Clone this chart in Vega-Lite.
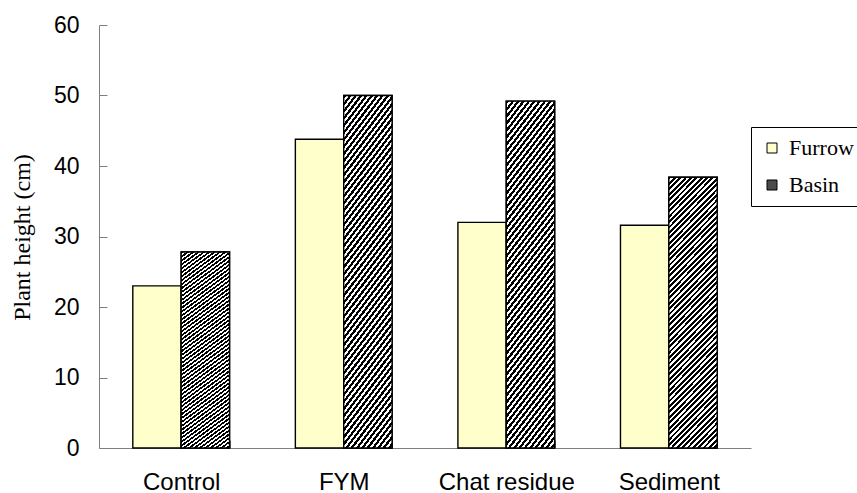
{
  "$schema": "https://vega.github.io/schema/vega-lite/v6.json",
  "width": 652,
  "height": 423,
  "autosize": {"type": "none"},
  "padding": {"left": 99, "top": 25, "right": 106, "bottom": 45},
  "background": "white",
  "config": {"view": {"stroke": null}},
  "data": {
    "values": [
      {"treatment": "Control", "irrigation": "Furrow", "height": 23.0},
      {"treatment": "Control", "irrigation": "Basin", "height": 27.8},
      {"treatment": "FYM", "irrigation": "Furrow", "height": 43.8},
      {"treatment": "FYM", "irrigation": "Basin", "height": 50.0},
      {"treatment": "Chat residue", "irrigation": "Furrow", "height": 32.0},
      {"treatment": "Chat residue", "irrigation": "Basin", "height": 49.2},
      {"treatment": "Sediment", "irrigation": "Furrow", "height": 31.6},
      {"treatment": "Sediment", "irrigation": "Basin", "height": 38.4}
    ]
  },
  "encoding": {
    "x": {
      "field": "treatment",
      "type": "nominal",
      "sort": ["Control", "FYM", "Chat residue", "Sediment"],
      "scale": {"paddingInner": 0.405, "paddingOuter": 0.208},
      "axis": {
        "title": null,
        "labelAngle": 0,
        "labelFont": "Liberation Sans",
        "labelFontSize": 24,
        "labelColor": "#000",
        "labelBaseline": "alphabetic",
        "labelPadding": 49,
        "tickBand": "extent",
        "tickSize": -8,
        "tickColor": "#7f7f7f",
        "domainColor": "#7f7f7f"
      }
    },
    "xOffset": {"field": "irrigation", "type": "nominal", "sort": ["Furrow", "Basin"], "scale": {"domain": ["Furrow", "Basin"]}},
    "y": {
      "field": "height",
      "type": "quantitative",
      "scale": {"domain": [0, 60]},
      "axis": {
        "values": [0, 10, 20, 30, 40, 50, 60],
        "grid": false,
        "title": "Plant height (cm)",
        "titleFont": "Liberation Serif",
        "titleFontSize": 24,
        "titleFontWeight": "normal",
        "titleColor": "#000",
        "titleAngle": -90,
        "titleAlign": "center",
        "titleBaseline": "middle",
        "titleX": -77,
        "titleY": 212,
        "labelFont": "Liberation Sans",
        "labelFontSize": 23,
        "labelColor": "#000",
        "labelPadding": 28,
        "tickSize": -8,
        "tickColor": "#7f7f7f",
        "domainColor": "#7f7f7f"
      }
    }
  },
  "layer": [
    {
      "mark": {"type": "bar", "stroke": "#000", "strokeWidth": 1.4},
      "encoding": {
        "fill": {
          "field": "irrigation",
          "type": "nominal",
          "sort": ["Furrow", "Basin"],
          "scale": {"domain": ["Furrow", "Basin"], "range": ["#FFFFCC", "#4a4a4a"]},
          "legend": {
            "title": null,
            "orient": "none",
            "legendX": 652,
            "legendY": 102,
            "padding": 10,
            "strokeColor": "#000",
            "fillColor": "#fff",
            "symbolType": "square",
            "symbolSize": 100,
            "symbolStrokeColor": "#000",
            "symbolStrokeWidth": 1,
            "symbolOpacity": 1,
            "labelFont": "Liberation Serif",
            "labelFontSize": 22,
            "labelColor": "#000",
            "labelOffset": 6,
            "rowPadding": 15
          }
        }
      }
    },
    {
      "transform": [{"filter": "datum.irrigation === 'Basin'"}],
      "mark": {
        "type": "bar",
        "stroke": "#000",
        "strokeWidth": 1.4,
        "fill": {
          "gradient": "linear",
          "x1": 0, "y1": 0, "x2": 0.208, "y2": 1.144,
          "stops": [
            {"offset":0,"color":"#000"},{"offset":0.009,"color":"#000"},{"offset":0.009,"color":"#fff"},{"offset":0.017,"color":"#fff"},
            {"offset":0.017,"color":"#000"},{"offset":0.026,"color":"#000"},{"offset":0.026,"color":"#fff"},{"offset":0.034,"color":"#fff"},
            {"offset":0.034,"color":"#000"},{"offset":0.043,"color":"#000"},{"offset":0.043,"color":"#fff"},{"offset":0.051,"color":"#fff"},
            {"offset":0.051,"color":"#000"},{"offset":0.06,"color":"#000"},{"offset":0.06,"color":"#fff"},{"offset":0.068,"color":"#fff"},
            {"offset":0.068,"color":"#000"},{"offset":0.077,"color":"#000"},{"offset":0.077,"color":"#fff"},{"offset":0.085,"color":"#fff"},
            {"offset":0.085,"color":"#000"},{"offset":0.094,"color":"#000"},{"offset":0.094,"color":"#fff"},{"offset":0.102,"color":"#fff"},
            {"offset":0.102,"color":"#000"},{"offset":0.111,"color":"#000"},{"offset":0.111,"color":"#fff"},{"offset":0.119,"color":"#fff"},
            {"offset":0.119,"color":"#000"},{"offset":0.128,"color":"#000"},{"offset":0.128,"color":"#fff"},{"offset":0.136,"color":"#fff"},
            {"offset":0.136,"color":"#000"},{"offset":0.145,"color":"#000"},{"offset":0.145,"color":"#fff"},{"offset":0.153,"color":"#fff"},
            {"offset":0.153,"color":"#000"},{"offset":0.162,"color":"#000"},{"offset":0.162,"color":"#fff"},{"offset":0.17,"color":"#fff"},
            {"offset":0.17,"color":"#000"},{"offset":0.179,"color":"#000"},{"offset":0.179,"color":"#fff"},{"offset":0.187,"color":"#fff"},
            {"offset":0.187,"color":"#000"},{"offset":0.196,"color":"#000"},{"offset":0.196,"color":"#fff"},{"offset":0.204,"color":"#fff"},
            {"offset":0.204,"color":"#000"},{"offset":0.213,"color":"#000"},{"offset":0.213,"color":"#fff"},{"offset":0.221,"color":"#fff"},
            {"offset":0.221,"color":"#000"},{"offset":0.23,"color":"#000"},{"offset":0.23,"color":"#fff"},{"offset":0.238,"color":"#fff"},
            {"offset":0.238,"color":"#000"},{"offset":0.247,"color":"#000"},{"offset":0.247,"color":"#fff"},{"offset":0.255,"color":"#fff"},
            {"offset":0.255,"color":"#000"},{"offset":0.264,"color":"#000"},{"offset":0.264,"color":"#fff"},{"offset":0.272,"color":"#fff"},
            {"offset":0.272,"color":"#000"},{"offset":0.281,"color":"#000"},{"offset":0.281,"color":"#fff"},{"offset":0.289,"color":"#fff"},
            {"offset":0.289,"color":"#000"},{"offset":0.298,"color":"#000"},{"offset":0.298,"color":"#fff"},{"offset":0.306,"color":"#fff"},
            {"offset":0.306,"color":"#000"},{"offset":0.315,"color":"#000"},{"offset":0.315,"color":"#fff"},{"offset":0.323,"color":"#fff"},
            {"offset":0.323,"color":"#000"},{"offset":0.332,"color":"#000"},{"offset":0.332,"color":"#fff"},{"offset":0.34,"color":"#fff"},
            {"offset":0.34,"color":"#000"},{"offset":0.349,"color":"#000"},{"offset":0.349,"color":"#fff"},{"offset":0.357,"color":"#fff"},
            {"offset":0.357,"color":"#000"},{"offset":0.366,"color":"#000"},{"offset":0.366,"color":"#fff"},{"offset":0.374,"color":"#fff"},
            {"offset":0.374,"color":"#000"},{"offset":0.383,"color":"#000"},{"offset":0.383,"color":"#fff"},{"offset":0.391,"color":"#fff"},
            {"offset":0.391,"color":"#000"},{"offset":0.4,"color":"#000"},{"offset":0.4,"color":"#fff"},{"offset":0.408,"color":"#fff"},
            {"offset":0.408,"color":"#000"},{"offset":0.417,"color":"#000"},{"offset":0.417,"color":"#fff"},{"offset":0.425,"color":"#fff"},
            {"offset":0.425,"color":"#000"},{"offset":0.434,"color":"#000"},{"offset":0.434,"color":"#fff"},{"offset":0.442,"color":"#fff"},
            {"offset":0.442,"color":"#000"},{"offset":0.451,"color":"#000"},{"offset":0.451,"color":"#fff"},{"offset":0.459,"color":"#fff"},
            {"offset":0.459,"color":"#000"},{"offset":0.468,"color":"#000"},{"offset":0.468,"color":"#fff"},{"offset":0.476,"color":"#fff"},
            {"offset":0.476,"color":"#000"},{"offset":0.485,"color":"#000"},{"offset":0.485,"color":"#fff"},{"offset":0.493,"color":"#fff"},
            {"offset":0.493,"color":"#000"},{"offset":0.502,"color":"#000"},{"offset":0.502,"color":"#fff"},{"offset":0.51,"color":"#fff"},
            {"offset":0.51,"color":"#000"},{"offset":0.519,"color":"#000"},{"offset":0.519,"color":"#fff"},{"offset":0.527,"color":"#fff"},
            {"offset":0.527,"color":"#000"},{"offset":0.536,"color":"#000"},{"offset":0.536,"color":"#fff"},{"offset":0.544,"color":"#fff"},
            {"offset":0.544,"color":"#000"},{"offset":0.553,"color":"#000"},{"offset":0.553,"color":"#fff"},{"offset":0.561,"color":"#fff"},
            {"offset":0.561,"color":"#000"},{"offset":0.57,"color":"#000"},{"offset":0.57,"color":"#fff"},{"offset":0.578,"color":"#fff"},
            {"offset":0.578,"color":"#000"},{"offset":0.587,"color":"#000"},{"offset":0.587,"color":"#fff"},{"offset":0.595,"color":"#fff"},
            {"offset":0.595,"color":"#000"},{"offset":0.604,"color":"#000"},{"offset":0.604,"color":"#fff"},{"offset":0.612,"color":"#fff"},
            {"offset":0.612,"color":"#000"},{"offset":0.621,"color":"#000"},{"offset":0.621,"color":"#fff"},{"offset":0.629,"color":"#fff"},
            {"offset":0.629,"color":"#000"},{"offset":0.638,"color":"#000"},{"offset":0.638,"color":"#fff"},{"offset":0.646,"color":"#fff"},
            {"offset":0.646,"color":"#000"},{"offset":0.655,"color":"#000"},{"offset":0.655,"color":"#fff"},{"offset":0.663,"color":"#fff"},
            {"offset":0.663,"color":"#000"},{"offset":0.672,"color":"#000"},{"offset":0.672,"color":"#fff"},{"offset":0.68,"color":"#fff"},
            {"offset":0.68,"color":"#000"},{"offset":0.689,"color":"#000"},{"offset":0.689,"color":"#fff"},{"offset":0.697,"color":"#fff"},
            {"offset":0.697,"color":"#000"},{"offset":0.706,"color":"#000"},{"offset":0.706,"color":"#fff"},{"offset":0.714,"color":"#fff"},
            {"offset":0.714,"color":"#000"},{"offset":0.723,"color":"#000"},{"offset":0.723,"color":"#fff"},{"offset":0.731,"color":"#fff"},
            {"offset":0.731,"color":"#000"},{"offset":0.74,"color":"#000"},{"offset":0.74,"color":"#fff"},{"offset":0.748,"color":"#fff"},
            {"offset":0.748,"color":"#000"},{"offset":0.757,"color":"#000"},{"offset":0.757,"color":"#fff"},{"offset":0.765,"color":"#fff"},
            {"offset":0.765,"color":"#000"},{"offset":0.774,"color":"#000"},{"offset":0.774,"color":"#fff"},{"offset":0.782,"color":"#fff"},
            {"offset":0.782,"color":"#000"},{"offset":0.791,"color":"#000"},{"offset":0.791,"color":"#fff"},{"offset":0.799,"color":"#fff"},
            {"offset":0.799,"color":"#000"},{"offset":0.808,"color":"#000"},{"offset":0.808,"color":"#fff"},{"offset":0.816,"color":"#fff"},
            {"offset":0.816,"color":"#000"},{"offset":0.825,"color":"#000"},{"offset":0.825,"color":"#fff"},{"offset":0.833,"color":"#fff"},
            {"offset":0.833,"color":"#000"},{"offset":0.842,"color":"#000"},{"offset":0.842,"color":"#fff"},{"offset":0.85,"color":"#fff"},
            {"offset":0.85,"color":"#000"},{"offset":0.859,"color":"#000"},{"offset":0.859,"color":"#fff"},{"offset":0.867,"color":"#fff"},
            {"offset":0.867,"color":"#000"},{"offset":0.876,"color":"#000"},{"offset":0.876,"color":"#fff"},{"offset":0.884,"color":"#fff"},
            {"offset":0.884,"color":"#000"},{"offset":0.893,"color":"#000"},{"offset":0.893,"color":"#fff"},{"offset":0.901,"color":"#fff"},
            {"offset":0.901,"color":"#000"},{"offset":0.91,"color":"#000"},{"offset":0.91,"color":"#fff"},{"offset":0.918,"color":"#fff"},
            {"offset":0.918,"color":"#000"},{"offset":0.927,"color":"#000"},{"offset":0.927,"color":"#fff"},{"offset":0.935,"color":"#fff"},
            {"offset":0.935,"color":"#000"},{"offset":0.944,"color":"#000"},{"offset":0.944,"color":"#fff"},{"offset":0.952,"color":"#fff"},
            {"offset":0.952,"color":"#000"},{"offset":0.961,"color":"#000"},{"offset":0.961,"color":"#fff"},{"offset":0.969,"color":"#fff"},
            {"offset":0.969,"color":"#000"},{"offset":0.978,"color":"#000"},{"offset":0.978,"color":"#fff"},{"offset":0.986,"color":"#fff"},
            {"offset":0.986,"color":"#000"},{"offset":0.995,"color":"#000"},{"offset":0.995,"color":"#fff"},{"offset":1,"color":"#fff"}
          ]
        }
      }
    }
  ]
}
